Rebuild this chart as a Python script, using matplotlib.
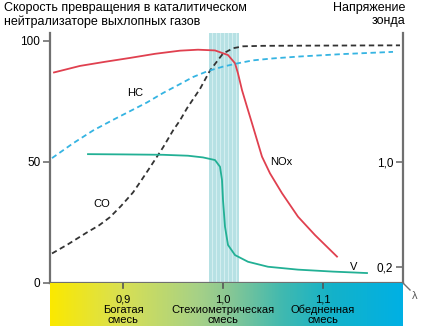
import matplotlib
matplotlib.use("Agg")
import matplotlib.pyplot as plt
import numpy as np
from matplotlib.colors import LinearSegmentedColormap

plt.rcParams['font.family'] = ['Liberation Sans', 'DejaVu Sans']

# conversion rate curves (%) vs lambda
lam_nox = [0.831, 0.857, 0.882, 0.907, 0.932, 0.957, 0.975, 0.992, 1.005, 1.012,
           1.015, 1.019, 1.024, 1.029, 1.034, 1.039, 1.047, 1.059, 1.075, 1.092, 1.114]
nox = [86.8, 89.5, 91.2, 92.8, 94.5, 95.8, 96.2, 95.9, 94.0, 90.6,
       86.4, 79.5, 72.6, 65.8, 58.9, 52.0, 45.1, 36.9, 27.2, 19.6, 10.7]

lam_co = [0.829, 0.845, 0.864, 0.876, 0.887, 0.898, 0.910, 0.918, 0.927, 0.940,
          0.950, 0.957, 0.964, 0.977, 0.987, 1.000, 1.010, 1.020, 1.040, 1.100, 1.177]
co = [12.0, 15.8, 20.7, 23.6, 27.0, 31.6, 37.2, 42.0, 47.6, 55.8,
      62.8, 67.0, 72.0, 80.0, 87.6, 94.6, 96.8, 97.6, 97.8, 97.9, 98.0]

lam_hc = [0.829, 0.850, 0.870, 0.890, 0.907, 0.924, 0.940, 0.957, 0.970, 0.985,
          1.000, 1.015, 1.030, 1.050, 1.077, 1.120, 1.170]
hc = [51.4, 57.5, 62.8, 67.2, 70.8, 74.4, 78.3, 82.0, 84.9, 87.4,
      89.2, 90.6, 91.8, 92.6, 93.4, 94.4, 95.3]

# sensor voltage (V)
lam_v = [0.865, 0.900, 0.940, 0.965, 0.980, 0.992, 0.997, 0.999, 1.000, 1.002,
         1.005, 1.012, 1.025, 1.045, 1.075, 1.110, 1.144]
volt = [1.06, 1.058, 1.055, 1.048, 1.035, 1.015, 0.964, 0.863, 0.710, 0.507,
        0.368, 0.291, 0.240, 0.202, 0.180, 0.165, 0.154]

lam_ticks = [0.9, 1.0, 1.1]
lam_tick_labels = ['0,9', '1,0', '1,1']
mix_line1 = ['Богатая', 'Стехиометрическая', 'Обедненная']
mix_line2 = ['смесь', 'смесь', 'смесь']

W, H = 421, 326
fig = plt.figure(figsize=(W / 100, H / 100), dpi=100)

x0, x1 = 50, 403
ytop, ybot = 33, 282.5
ax = fig.add_axes([x0 / W, (H - ybot) / H, (x1 - x0) / W, (ybot - ytop) / H])
ax.set_xlim(0.827, 1.180)
ax.set_ylim(0, 103.1)

spine_c = '#707070'
for s in ['left', 'right', 'bottom']:
    ax.spines[s].set_color(spine_c)
    ax.spines[s].set_linewidth(1.6)
ax.spines['top'].set_visible(False)

# stoichiometric window
ax.axvspan(0.986, 1.016, color='#b6e1e4', lw=0, zorder=0)
for xv in [0.989, 0.993, 0.997, 1.001, 1.005, 1.009, 1.013]:
    ax.axvline(xv, color='#d3eef0', lw=0.8, zorder=0)

ax.plot(lam_nox, nox, color='#e0404f', lw=1.3)
ax.plot(lam_co, co, color='#333333', lw=1.3, ls=(0, (3, 2)))
ax.plot(lam_hc, hc, color='#35b4e2', lw=1.3, ls=(0, (3, 2)))

ax.set_xticks([])
ax.set_yticks([0, 50, 100])
ax.set_yticklabels(['0', '50', '100'], fontsize=8.5)
ax.tick_params(axis='y', length=5, width=1.2, color=spine_c, pad=2)
ax.yaxis.get_major_ticks()[0].tick1line.set_visible(False)

ax.text(0.912, 78.3, 'HC', fontsize=8, ha='center', va='center')
ax.text(0.879, 32.4, 'CO', fontsize=8, ha='center', va='center')
ax.text(1.058, 49.8, 'NOx', fontsize=8, ha='center', va='center')
ax.text(1.131, 6.4, 'V', fontsize=8, ha='center', va='center')

ax2 = ax.twinx()
ax2.set_ylim(0.082, 1.983)
ax2.plot(lam_v, volt, color='#22b095', lw=1.3)
for s in ax2.spines.values():
    s.set_visible(False)
ax2.set_yticks([0.2, 1.0])
ax2.set_yticklabels(['0,2', '1,0'], fontsize=8.5)
ax2.tick_params(axis='y', direction='in', length=5, width=1.2, color=spine_c, pad=-7)
for lbl in ax2.get_yticklabels():
    lbl.set_ha('right')

# lambda gradient bar
gh = H - ybot
axg = fig.add_axes([x0 / W, 0, (x1 - x0) / W, gh / H])
cmap = LinearSegmentedColormap.from_list('mix', [
    (0.0, '#fbe900'), (0.2, '#d9e052'), (0.42, '#a6d187'), (0.5, '#8cc893'),
    (0.66, '#40b9b0'), (0.8, '#14b2c9'), (1.0, '#00b0e4')])
axg.imshow(np.linspace(0, 1, 256).reshape(1, -1), aspect='auto', cmap=cmap,
           extent=[0.827, 1.180, 0, gh])
axg.set_xlim(0.827, 1.180)
axg.set_ylim(gh, 0)  # pixels from top of bar
axg.axis('off')
for lt, tl, m1, m2 in zip(lam_ticks, lam_tick_labels, mix_line1, mix_line2):
    axg.plot([lt, lt], [0, 5], color='#555555', lw=1.2)
    axg.text(lt, 17, tl, fontsize=8, ha='center', va='center')
    axg.text(lt, 27.5, m1, fontsize=8, ha='center', va='center')
    axg.text(lt, 37.5, m2, fontsize=8, ha='center', va='center')

# lambda arrow stub
fig.add_artist(plt.Line2D([403 / W, 410 / W], [(H - 283) / H, (H - 290) / H],
                          color=spine_c, lw=1))
fig.text(415 / W, (H - 296) / H, 'λ', fontsize=8, color='#555555', ha='center', va='center')

fig.text(4 / W, 1 - 2 / H, 'Скорость превращения в каталитическом\nнейтрализаторе выхлопных газов',
         fontsize=9, ha='left', va='top', linespacing=1.15)
fig.text(405 / W, 1 - 2 / H, 'Напряжение\nзонда', fontsize=9, ha='right', va='top',
         linespacing=1.15, multialignment='right')

fig.savefig('out.png', dpi=100)
